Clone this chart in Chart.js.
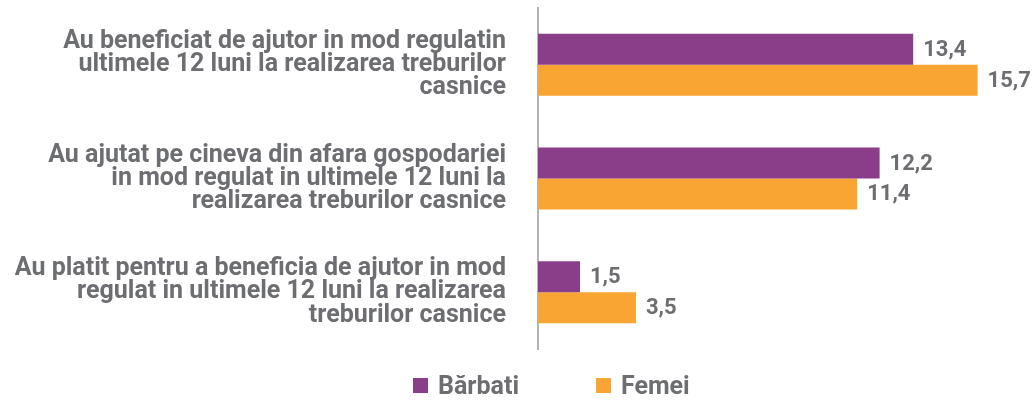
<!DOCTYPE html>
<html>
<head>
<meta charset="utf-8">
<script src="https://cdn.jsdelivr.net/npm/chart.js@4"></script>
<style>
  body { margin: 0; background: #fff; font-family: Roboto, sans-serif; }
  #wrap { position: relative; width: 1032px; height: 401px; }
  canvas { display: block; }
  #legend { position: absolute; left: 0; top: 371px; width: 1032px; height: 30px; }
  .item { position: absolute; top: 0; font: bold 25px Roboto, sans-serif; color: #6d6e71; line-height: 30px; }
  .box { display: inline-block; width: 15px; height: 15px; margin-right: 10px; vertical-align: 1px; }
</style>
</head>
<body>
<div id="wrap">
  <canvas id="myChart" width="1032" height="401"></canvas>
  <div id="legend"></div>
</div>
<script>
// Categorii (etichete pe mai multe randuri)
const categorii = [
    ['Au beneficiat de ajutor in mod regulatin', 'ultimele 12 luni la realizarea treburilor', 'casnice'],
    ['Au ajutat pe cineva din afara gospodariei', 'in mod regulat in ultimele 12 luni la', 'realizarea treburilor casnice'],
    ['Au platit pentru a beneficia de ajutor in mod', 'regulat in ultimele 12 luni la realizarea', 'treburilor casnice']
];
const barbati = [13.4, 12.2, 1.5];
const femei = [15.7, 11.4, 3.5];
const serii = ['Bărbati', 'Femei'];
const culori = ['#8a3e8a', '#f9a533'];
const textColor = '#6d6e71';

// Plugin pentru valorile de la capatul barelor
const valori = {
    id: 'valori',
    afterDatasetsDraw(chart) {
        const ctx = chart.ctx;
        ctx.save();
        ctx.font = 'bold 22px Roboto';
        ctx.fillStyle = textColor;
        ctx.textAlign = 'left';
        ctx.textBaseline = 'middle';
        chart.data.datasets.forEach((ds, i) => {
            chart.getDatasetMeta(i).data.forEach((bar, j) => {
                const txt = ds.data[j].toFixed(1).replace('.', ',');
                ctx.fillText(txt, bar.x + 10, bar.y + 1);
            });
        });
        ctx.restore();
    }
};

const ctx = document.getElementById('myChart').getContext('2d');
const chart = new Chart(ctx, {
    type: 'bar',
    data: {
        labels: categorii,
        datasets: [
            { label: serii[0], data: barbati, backgroundColor: culori[0] },
            { label: serii[1], data: femei, backgroundColor: culori[1] }
        ]
    },
    options: {
        indexAxis: 'y',
        responsive: false,
        animation: false,
        layout: { padding: { top: 8, bottom: 52, right: 4, left: 0 } },
        datasets: { bar: { categoryPercentage: 0.545, barPercentage: 1 } },
        scales: {
            x: { display: false, min: 0, max: 17.5 },
            y: {
                grid: { display: false, drawTicks: false },
                border: { display: true, color: '#b3b3b3', width: 2 },
                ticks: {
                    color: textColor,
                    font: { family: 'Roboto', size: 25, weight: 'bold', lineHeight: 0.93 },
                    padding: 32
                },
                afterFit(scale) {
                    scale.width = 538;
                    scale.paddingTop = 0;
                    scale.paddingBottom = 0;
                }
            }
        },
        plugins: {
            legend: { display: false },
            tooltip: { enabled: false }
        }
    },
    plugins: [valori]
});

// Legenda
const legendX = [413, 596];
const legend = document.getElementById('legend');
serii.forEach((s, i) => {
    const el = document.createElement('div');
    el.className = 'item';
    el.style.left = legendX[i] + 'px';
    el.innerHTML = '<span class="box" style="background:' + culori[i] + '"></span>' + s;
    legend.appendChild(el);
});
</script>
</body>
</html>
